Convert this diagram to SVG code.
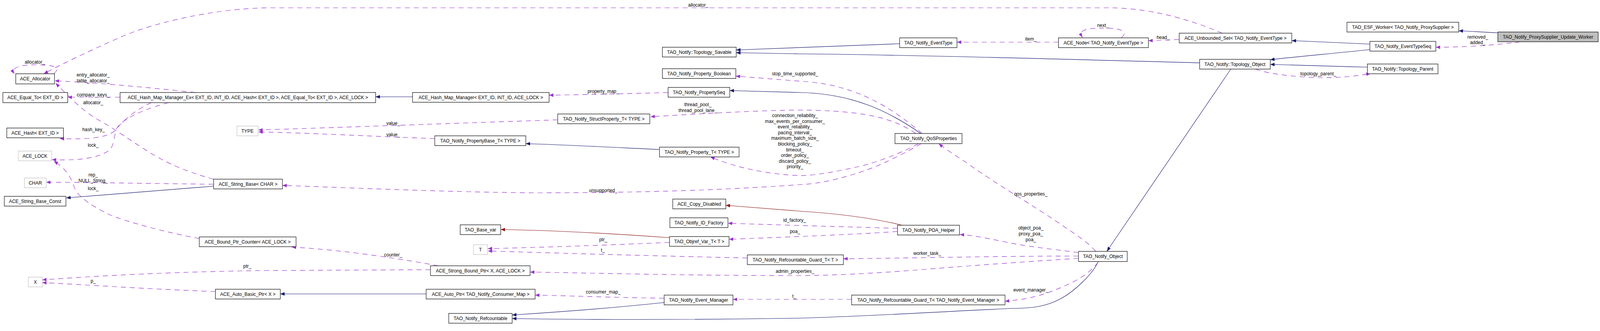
<svg xmlns="http://www.w3.org/2000/svg" width="4464" height="848" viewBox="0 0 4464 848">
<style>
text{font-family:"Liberation Sans",Arial,sans-serif;font-size:13px;fill:#000}
.nd text{text-anchor:middle}
.nd rect{fill:#fff;stroke:#000;stroke-width:1.2}
.nd.g rect{stroke:#bfbfbf}
.nd.m rect{fill:#bfbfbf}
#edges path{fill:none;stroke-width:1.2}
#edges .d{stroke:#9a32cd;stroke-dasharray:14,11;marker-end:url(#ap)}
#edges .s{stroke:#191970;marker-end:url(#an)}
#edges .r{stroke:#8b1a1a;marker-end:url(#ar)}
#labels text{text-anchor:middle}
</style>
<defs>
<marker id="ap" viewBox="0 0 12 9" refX="12" refY="4.5" markerWidth="12" markerHeight="9" markerUnits="userSpaceOnUse" orient="auto"><path d="M0,0 L12,4.5 L0,9 z" fill="#9a32cd"/></marker>
<marker id="an" viewBox="0 0 12 9" refX="12" refY="4.5" markerWidth="12" markerHeight="9" markerUnits="userSpaceOnUse" orient="auto"><path d="M0,0 L12,4.5 L0,9 z" fill="#191970"/></marker>
<marker id="ar" viewBox="0 0 12 9" refX="12" refY="4.5" markerWidth="12" markerHeight="9" markerUnits="userSpaceOnUse" orient="auto"><path d="M0,0 L12,4.5 L0,9 z" fill="#8b1a1a"/></marker>
</defs>
<rect width="4464" height="848" fill="#fff"/>
<g id="diagram" transform="scale(0.91756,1)">
<g id="edges">
<path class="d" d="M3410,85 C3340,58 3230,22 3100,20 L760,20 C600,20 420,60 332,97 C250,130 170,165 122,189"/>
<path class="d" d="M150,189 C168,175 160,166 100,166 C50,166 30,175 40,189"/>
<path class="d" d="M545,237 C450,228 300,213 153,207"/>
<path class="d" d="M596,459 C520,440 470,420 420,392 C360,358 320,330 280,310 C230,285 190,245 155,213"/>
<path class="d" d="M335,249 L189,249"/>
<path class="d" d="M422,263 C360,290 335,320 320,335 C300,352 250,358 167,355"/>
<path class="d" d="M470,263 C400,280 340,305 325,330 C315,360 320,375 300,388 C270,405 220,412 145,409"/>
<path class="d" d="M556,611 C470,597 360,570 308,551 C260,530 220,505 209,484 C200,460 190,435 150,413"/>
<path class="d" d="M596,472 C400,470 250,467 129,467"/>
<path class="s" d="M596,477 L185,507"/>
<path class="d" d="M1223,681 C1100,660 950,640 814,633"/>
<path class="d" d="M1201,691 L744,693 C500,696 300,705 118,717"/>
<path class="d" d="M601,747 C400,740 250,730 118,724"/>
<path class="s" d="M1189,753 L782,753"/>
<path class="s" d="M1151,248 L1048,248"/>
<path class="d" d="M1864,237 C1750,240 1650,242 1532,244"/>
<path class="s" d="M2569,342 C2480,285 2380,240 2232,237 L2036,232"/>
<path class="d" d="M2573,342 C2480,270 2380,215 2232,208 L2053,195"/>
<path class="d" d="M2555,342 C2490,300 2400,283 2232,282 C2100,283 1950,292 1815,299"/>
<path class="d" d="M2562,368 C2520,390 2450,415 2400,426 C2330,440 2280,449 2232,450 C2150,447 2060,432 1982,402"/>
<path class="d" d="M2570,368 C2530,390 2480,412 2440,428 C2370,452 2300,470 2232,473 C1960,491 1700,494 1488,494 C1250,492 1000,482 788,475"/>
<path class="d" d="M1556,307 C1200,318 900,328 721,333"/>
<path class="d" d="M1213,355 C1050,350 850,340 721,338"/>
<path class="s" d="M1840,383 C1700,377 1550,370 1467,368"/>
<path class="r" d="M2517,577 C2420,555 2300,545 2232,541 C2150,535 2080,530 2025,526"/>
<path class="r" d="M1868,609 C1700,598 1550,590 1397,588"/>
<path class="d" d="M2504,585 C2400,582 2232,578 2031,572"/>
<path class="d" d="M2504,593 C2400,600 2232,606 2034,613"/>
<path class="d" d="M1868,621 C1700,628 1500,634 1361,637"/>
<path class="d" d="M2085,661 C1800,655 1500,647 1361,643"/>
<path class="d" d="M3009,662 C2900,668 2750,678 2706,681 C2550,692 2400,705 2232,706 C1900,706 1700,700 1479,697"/>
<path class="d" d="M3009,656 C2800,656 2550,661 2353,663"/>
<path class="d" d="M3009,647 C2950,640 2850,630 2801,619 C2750,610 2720,603 2678,601"/>
<path class="d" d="M3057,644 C3035,620 3000,600 2960,575 C2880,525 2760,460 2702,420 C2660,395 2635,380 2619,368"/>
<path class="s" d="M3064,670 C3050,700 3000,745 2960,765 C2920,785 2880,790 2825,790 C2600,800 2400,811 2232,815 C1900,820 1600,819 1429,816"/>
<path class="s" d="M1853,775 C1700,790 1550,800 1429,807"/>
<path class="d" d="M1853,764 C1700,762 1600,758 1493,756"/>
<path class="d" d="M2376,767 L2045,767"/>
<path class="d" d="M3064,671 C3050,690 3020,712 2983,727 C2950,742 2900,760 2849,767 L2804,772"/>
<path class="s" d="M3434,177 L3088,644"/>
<path class="s" d="M2510,112 C2350,117 2200,124 2054,128"/>
<path class="s" d="M3347,161 C2900,150 2500,140 2232,138 C2150,137 2100,136 2054,135"/>
<path class="d" d="M2953,108 L2670,108"/>
<path class="d" d="M3128,97 C3145,85 3140,72 3080,72 C3020,72 3010,80 3020,96"/>
<path class="d" d="M3290,101 C3260,102 3240,104 3204,104"/>
<path class="s" d="M3822,113 C3750,110 3680,107 3604,104"/>
<path class="s" d="M3822,127 C3720,137 3620,145 3544,153"/>
<path class="s" d="M3815,172 C3720,170 3620,167 3544,165"/>
<path class="d" d="M3503,177 C3540,190 3620,198 3688,199 C3740,199 3780,196 3824,188"/>
<path class="s" d="M4179,84 C4130,82 4100,80 4070,79"/>
<path class="d" d="M4242,107 C4200,113 4100,121 4006,121"/>
</g>
<g id="labels">
<text x="1948" y="17">allocator_</text>
<text x="97" y="163">allocator_</text>
<text x="260" y="196">entry_allocator_</text>
<text x="260" y="211">table_allocator_</text>
<text x="260" y="247">compare_keys_</text>
<text x="260" y="267">allocator_</text>
<text x="261" y="336">hash_key_</text>
<text x="260" y="376">lock_</text>
<text x="260" y="452">rep_</text>
<text x="260" y="467">NULL_String_</text>
<text x="260" y="487">lock_</text>
<text x="690" y="686">ptr_</text>
<text x="260" y="724">p_</text>
<text x="1097" y="657">counter_</text>
<text x="1097" y="320">value_</text>
<text x="1097" y="349">value_</text>
<text x="1683" y="238">property_map_</text>
<text x="1947" y="272">thread_pool_</text>
<text x="1947" y="287">thread_pool_lane_</text>
<text x="2218" y="193">stop_time_supported_</text>
<text x="2218" y="300">connection_reliability_</text>
<text x="2218" y="314.6">max_events_per_consumer_</text>
<text x="2218" y="329.2">event_reliability_</text>
<text x="2218" y="343.8">pacing_interval_</text>
<text x="2218" y="358.4">maximum_batch_size_</text>
<text x="2218" y="373">blocking_policy_</text>
<text x="2218" y="387.6">timeout_</text>
<text x="2218" y="402.2">order_policy_</text>
<text x="2218" y="416.8">discard_policy_</text>
<text x="2218" y="431.4">priority_</text>
<text x="1683" y="492">unsupported_</text>
<text x="1683" y="618">ptr_</text>
<text x="1682" y="645">t_</text>
<text x="1683" y="752">consumer_map_</text>
<text x="2217" y="568">id_factory_</text>
<text x="2218" y="597">poa_</text>
<text x="2218" y="699">admin_properties_</text>
<text x="2216" y="763">t_</text>
<text x="2587" y="653">worker_task_</text>
<text x="2876" y="501">qos_properties_</text>
<text x="2876" y="588">object_poa_</text>
<text x="2876" y="603">proxy_poa_</text>
<text x="2876" y="618">poa_</text>
<text x="2876" y="747">event_manager_</text>
<text x="2876" y="104">item_</text>
<text x="3077" y="69">next_</text>
<text x="3245" y="100">head_</text>
<text x="3678" y="193">topology_parent_</text>
<text x="4123" y="99">removed_</text>
<text x="4123" y="113">added_</text>
</g>
<g id="n1" class="nd"><rect x="44" y="189" width="108" height="26"/><text x="98" y="206.5">ACE_Allocator</text></g>
<g id="n2" class="nd"><rect x="8" y="237" width="181" height="26"/><text x="98.5" y="254.5">ACE_Equal_To&lt; EXT_ID &gt;</text></g>
<g id="n3" class="nd"><rect x="335" y="237" width="713" height="26"/><text x="691.5" y="254.5">ACE_Hash_Map_Manager_Ex&lt; EXT_ID, INT_ID, ACE_Hash&lt; EXT_ID &gt;, ACE_Equal_To&lt; EXT_ID &gt;, ACE_LOCK &gt;</text></g>
<g id="n4" class="nd"><rect x="19" y="328" width="158" height="25"/><text x="98" y="345">ACE_Hash&lt; EXT_ID &gt;</text></g>
<g id="n5" class="nd g"><rect x="51" y="387" width="93" height="25"/><text x="97.5" y="404">ACE_LOCK</text></g>
<g id="n6" class="nd g"><rect x="661" y="323" width="59" height="25"/><text x="690.5" y="340">TYPE</text></g>
<g id="n7" class="nd g"><rect x="68" y="456" width="61" height="25"/><text x="98.5" y="473">CHAR</text></g>
<g id="n8" class="nd"><rect x="12" y="503" width="172" height="25"/><text x="98" y="520">ACE_String_Base_Const</text></g>
<g id="n9" class="nd"><rect x="596" y="459" width="192" height="25"/><text x="692" y="476">ACE_String_Base&lt; CHAR &gt;</text></g>
<g id="n10" class="nd"><rect x="556" y="607" width="270" height="25"/><text x="691" y="624">ACE_Bound_Ptr_Counter&lt; ACE_LOCK &gt;</text></g>
<g id="n11" class="nd g"><rect x="79" y="710" width="39" height="25"/><text x="98.5" y="727">X</text></g>
<g id="n12" class="nd"><rect x="601" y="741" width="181" height="25"/><text x="691.5" y="758">ACE_Auto_Basic_Ptr&lt; X &gt;</text></g>
<g id="n13" class="nd"><rect x="1151" y="237" width="381" height="25"/><text x="1341.5" y="254">ACE_Hash_Map_Manager&lt; EXT_ID, INT_ID, ACE_LOCK &gt;</text></g>
<g id="n14" class="nd"><rect x="1213" y="348" width="254" height="25"/><text x="1340" y="365">TAO_Notify_PropertyBase_T&lt; TYPE &gt;</text></g>
<g id="n15" class="nd"><rect x="1284" y="576" width="113" height="25"/><text x="1340.5" y="593">TAO_Base_var</text></g>
<g id="n16" class="nd g"><rect x="1321" y="627" width="39" height="25"/><text x="1340.5" y="644">T</text></g>
<g id="n17" class="nd"><rect x="1201" y="681" width="278" height="25"/><text x="1340" y="698">ACE_Strong_Bound_Ptr&lt; X, ACE_LOCK &gt;</text></g>
<g id="n18" class="nd"><rect x="1189" y="741" width="304" height="25"/><text x="1341" y="758">ACE_Auto_Ptr&lt; TAO_Notify_Consumer_Map &gt;</text></g>
<g id="n19" class="nd"><rect x="1252" y="803" width="177" height="25"/><text x="1340.5" y="820">TAO_Notify_Refcountable</text></g>
<g id="n20" class="nd"><rect x="1848" y="121" width="206" height="25"/><text x="1951" y="138">TAO_Notify::Topology_Savable</text></g>
<g id="n21" class="nd"><rect x="1848" y="176" width="205" height="25"/><text x="1950.5" y="193">TAO_Notify_Property_Boolean</text></g>
<g id="n22" class="nd"><rect x="1864" y="224" width="172" height="25"/><text x="1950" y="241">TAO_Notify_PropertySeq</text></g>
<g id="n23" class="nd"><rect x="1556" y="292" width="257" height="25"/><text x="1684.5" y="309">TAO_Notify_StructProperty_T&lt; TYPE &gt;</text></g>
<g id="n24" class="nd"><rect x="1840" y="377" width="222" height="25"/><text x="1951" y="394">TAO_Notify_Property_T&lt; TYPE &gt;</text></g>
<g id="n25" class="nd"><rect x="1877" y="510" width="148" height="25"/><text x="1951" y="527">ACE_Copy_Disabled</text></g>
<g id="n26" class="nd"><rect x="1869" y="558" width="162" height="25"/><text x="1950" y="575">TAO_Notify_ID_Factory</text></g>
<g id="n27" class="nd"><rect x="1868" y="606" width="166" height="25"/><text x="1951" y="623">TAO_Objref_Var_T&lt; T &gt;</text></g>
<g id="n28" class="nd"><rect x="2085" y="653" width="268" height="25"/><text x="2219" y="670">TAO_Notify_Refcountable_Guard_T&lt; T &gt;</text></g>
<g id="n29" class="nd"><rect x="1853" y="756" width="192" height="25"/><text x="1949" y="773">TAO_Notify_Event_Manager</text></g>
<g id="n30" class="nd"><rect x="2510" y="97" width="160" height="25"/><text x="2590" y="114">TAO_Notify_EventType</text></g>
<g id="n31" class="nd"><rect x="2497" y="342" width="187" height="26"/><text x="2590.5" y="359.5">TAO_Notify_QoSProperties</text></g>
<g id="n32" class="nd"><rect x="2953" y="97" width="251" height="25"/><text x="3078.5" y="114">ACE_Node&lt; TAO_Notify_EventType &gt;</text></g>
<g id="n33" class="nd"><rect x="2504" y="577" width="173" height="25"/><text x="2590.5" y="594">TAO_Notify_POA_Helper</text></g>
<g id="n34" class="nd"><rect x="2376" y="756" width="428" height="25"/><text x="2590" y="773">TAO_Notify_Refcountable_Guard_T&lt; TAO_Notify_Event_Manager &gt;</text></g>
<g id="n35" class="nd"><rect x="3290" y="85" width="314" height="25"/><text x="3447" y="102">ACE_Unbounded_Set&lt; TAO_Notify_EventType &gt;</text></g>
<g id="n36" class="nd"><rect x="3347" y="152" width="197" height="25"/><text x="3445.5" y="169">TAO_Notify::Topology_Object</text></g>
<g id="n37" class="nd"><rect x="3009" y="644" width="136" height="26"/><text x="3077" y="661.5">TAO_Notify_Object</text></g>
<g id="n38" class="nd"><rect x="3758" y="57" width="312" height="25"/><text x="3914" y="74">TAO_ESF_Worker&lt; TAO_Notify_ProxySupplier &gt;</text></g>
<g id="n39" class="nd"><rect x="3822" y="106" width="184" height="25"/><text x="3914" y="123">TAO_Notify_EventTypeSeq</text></g>
<g id="n40" class="nd"><rect x="3815" y="164" width="197" height="25"/><text x="3913.5" y="181">TAO_Notify::Topology_Parent</text></g>
<g id="n41" class="nd m"><rect x="4179" y="82" width="280" height="25"/><text x="4319" y="99">TAO_Notify_ProxySupplier_Update_Worker</text></g>
</g>
</svg>
